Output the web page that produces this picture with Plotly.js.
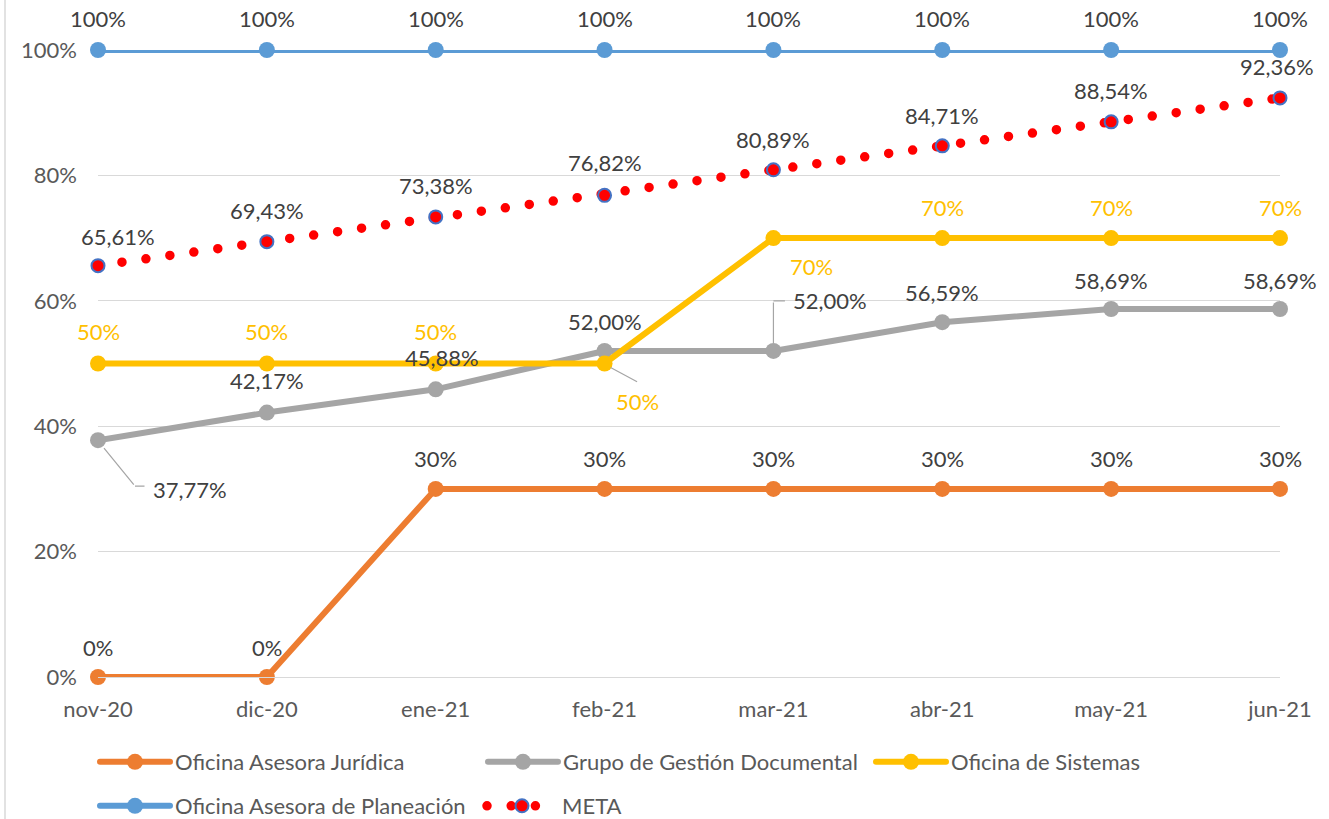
<!DOCTYPE html>
<html>
<head>
<meta charset="utf-8">
<script src="https://cdn.plot.ly/plotly-3.0.1.min.js"></script>
<style>
  html, body { margin: 0; padding: 0; background: #fff; }
  #chart { width: 1329px; height: 819px; }
  path.js-line { stroke-linecap: round; stroke-linejoin: round; }
</style>
</head>
<body>
<div id="chart"></div>
<script>
// ---- data ----
const months = ["nov-20", "dic-20", "ene-21", "feb-21", "mar-21", "abr-21", "may-21", "jun-21"];
const juridica   = [0, 0, 0.30, 0.30, 0.30, 0.30, 0.30, 0.30];
const gestionDoc = [0.3777, 0.4217, 0.4588, 0.5200, 0.5200, 0.5659, 0.5869, 0.5869];
const sistemas   = [0.50, 0.50, 0.50, 0.50, 0.70, 0.70, 0.70, 0.70];
const planeacion = [1, 1, 1, 1, 1, 1, 1, 1];
const meta       = [0.6561, 0.6943, 0.7338, 0.7682, 0.8089, 0.8471, 0.8854, 0.9236];
const seriesNames = ["Oficina Asesora Jurídica", "Grupo de Gestión Documental", "Oficina de Sistemas", "Oficina Asesora de Planeación", "META"];
const yTicks = [0, 0.2, 0.4, 0.6, 0.8, 1.0];

// ---- styles ----
const FONT = "Lato, 'Open Sans', sans-serif";
const FS = 22;
const C = { orange: "#ED7D31", grey: "#A5A5A5", yellow: "#FFC000", blue: "#5B9BD5", red: "#FF0000", ring: "#4472C4", text: "#404040", axis: "#595959", grid: "#D9D9D9" };

const pct0 = v => Math.round(v * 100) + "%";
const pct2 = v => (v * 100).toFixed(2).replace(".", ",") + "%";

const xs = months.map((m, i) => i);

function lineTrace(y, name, color, legendId) {
  return {
    type: "scatter", mode: "lines+markers", x: xs, y: y, name: name,
    line: { color: color, width: 6 },
    marker: { color: color, size: 16 },
    cliponaxis: false, legend: legendId, hoverinfo: "skip"
  };
}

const traces = [
  lineTrace(juridica, seriesNames[0], C.orange, "legend"),
  lineTrace(gestionDoc, seriesNames[1], C.grey, "legend2"),
  lineTrace(sistemas, seriesNames[2], C.yellow, "legend3"),
  lineTrace(planeacion, seriesNames[3], C.blue, "legend4"),
  {
    type: "scatter", mode: "lines+markers", x: xs, y: meta, name: seriesNames[4],
    line: { color: C.red, width: 9.5, dash: "0px,24.2px" },
    marker: { color: C.red, size: 13, line: { color: C.ring, width: 2 } },
    cliponaxis: false, legend: "legend5", hoverinfo: "skip"
  }
];

// ---- data labels (offsets in px; dx right, dy up) ----
// leaders: list of line segments in px offsets from the point: [startDx, startDy, endDx, endDy]
const labelSpecs = [
  { y: juridica, fmt: pct0, color: C.text, off: [[0,30],[0,30],[0,30],[0,30],[0,30],[0,30],[0,30],[0,30]] },
  { y: gestionDoc, fmt: pct2, color: C.text, off: [[92,-49],[0,32],[6,32],[0,29],[57,50],[0,30],[0,29],[0,29]],
    leaders: { 0: [[6,-8,37,-46],[37,-46,48,-46]], 4: [[0,8,0,50],[0,50,13,50]] } },
  { y: sistemas, fmt: pct0, color: C.yellow, off: [[0,32],[0,32],[0,32],[33,-38],[38,-28],[0,31],[0,31],[0,31]],
    leaders: { 3: [[6,-4,34,-19]] } },
  { y: planeacion, fmt: pct0, color: C.text, off: [[0,32],[0,32],[0,32],[0,32],[0,32],[0,32],[0,32],[0,32]] },
  { y: meta, fmt: pct2, color: C.text, off: [[20,29],[0,31],[0,31],[0,33],[0,30],[0,30],[0,31],[-3,31]] }
];

const annotations = [];
labelSpecs.forEach(s => {
  s.y.forEach((v, i) => {
    annotations.push({ x: xs[i], y: v, xref: "x", yref: "y", text: s.fmt(v),
      font: { family: FONT, size: FS, color: s.color }, xanchor: "center", yanchor: "middle",
      showarrow: false, xshift: s.off[i][0], yshift: s.off[i][1] });
    if (s.leaders && s.leaders[i]) {
      s.leaders[i].forEach(seg => {
        // arrow head at (x,y)+shift, tail at head + (ax, ay)
        annotations.push({ x: xs[i], y: v, xref: "x", yref: "y", text: "", showarrow: true,
          xshift: seg[0], yshift: seg[1], ax: seg[2] - seg[0], ay: -(seg[3] - seg[1]),
          arrowhead: 0, arrowwidth: 1.2, arrowcolor: C.grey, standoff: 0, startstandoff: 0 });
      });
    }
  });
});

const W = 1329, H = 819, PW = 1182, PH = 627;
const legendBase = { orientation: "h", xanchor: "left", yanchor: "middle", xref: "container", yref: "container",
  font: { family: FONT, size: FS, color: C.axis },
  bgcolor: "rgba(0,0,0,0)", itemwidth: 70, itemclick: false, itemdoubleclick: false };
function lg(px, py) { return Object.assign({}, legendBase, { x: px / W, y: 1 - py / H }); }

const layout = {
  width: W, height: H,
  margin: { l: 98, r: 49, t: 50, b: 142, autoexpand: false },
  paper_bgcolor: "#fff", plot_bgcolor: "#fff",
  font: { family: FONT, size: FS, color: C.axis },
  showlegend: true,
  xaxis: {
    type: "linear", range: [0, 7], tickvals: xs, ticktext: months,
    showgrid: false, zeroline: false, showline: true, linecolor: C.grid, linewidth: 1,
    ticks: "", ticklabelstandoff: 13, tickfont: { family: FONT, size: FS, color: C.axis }, fixedrange: true
  },
  yaxis: {
    range: [0, 1], tickvals: yTicks, tickformat: ".0%",
    showgrid: true, gridcolor: C.grid, gridwidth: 1, zeroline: false, showline: false,
    ticks: "", ticklabelstandoff: 20, tickfont: { family: FONT, size: FS, color: C.axis }, fixedrange: true
  },
  legend: lg(95, 762),
  legend2: lg(483, 762),
  legend3: lg(871, 762),
  legend4: lg(95, 806),
  legend5: lg(482, 806),
  annotations: annotations,
  shapes: [{ type: "line", xref: "paper", yref: "paper", x0: (5 - 98) / PW, x1: (5 - 98) / PW,
    y0: (677 - 830) / PH, y1: (677 + 10) / PH, line: { color: C.grid, width: 1.5 }, layer: "below" }]
};

Plotly.newPlot("chart", traces, layout, { displayModeBar: false, staticPlot: true });
</script>
</body>
</html>
